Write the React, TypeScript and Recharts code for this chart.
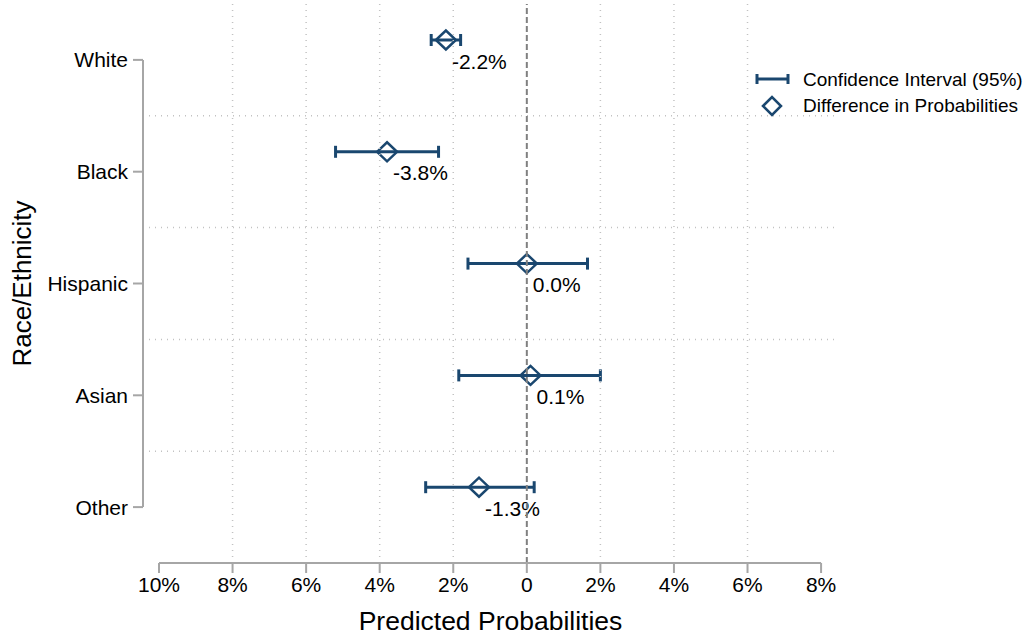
import { ComposedChart, Bar, XAxis, YAxis, ReferenceLine, Label } from "recharts"

const groups = ["White", "Black", "Hispanic", "Asian", "Other"]
const estimates = [-2.2, -3.8, 0.0, 0.1, -1.3]
const lower = [-2.6, -5.2, -1.6, -1.85, -2.75]
const upper = [-1.8, -2.4, 1.65, 2.0, 0.2]
const xTicks = [-10, -8, -6, -4, -2, 0, 2, 4, 6, 8]

const NAVY = "#1a476f"
const AXIS = "#a6a6a6"
const GRID = "#c2c2c2"
const FONT = "'Liberation Sans', Arial, Helvetica, sans-serif"

// plot area runs a bit past the outer ticks, like the Stata original
const X_MIN = -10.435
const X_MAX = 8.46

const rows = groups.map((name, i) => ({ name, est: estimates[i], ci: [lower[i], upper[i]] }))

const innerGrid = xTicks.filter((v, i) => v !== 0 && i > 0 && i < xTicks.length - 1)

function CiMark(props: any) {
  const { x, y, width, height, payload } = props
  const [lo, hi] = payload.ci
  const x1 = Math.min(x, x + width)
  const x2 = Math.max(x, x + width)
  const cy = y + height / 2 - 20
  const cx = x1 + ((x2 - x1) * (payload.est - lo)) / (hi - lo)
  return (
    <g>
      <line x1={x1} x2={x2} y1={cy} y2={cy} stroke={NAVY} strokeWidth={3} />
      <line x1={x1} x2={x1} y1={cy - 6} y2={cy + 6} stroke={NAVY} strokeWidth={3} />
      <line x1={x2} x2={x2} y1={cy - 6} y2={cy + 6} stroke={NAVY} strokeWidth={3} />
      <path
        d={`M${cx - 10},${cy} L${cx},${cy - 9.5} L${cx + 10},${cy} L${cx},${cy + 9.5} Z`}
        fill="none"
        stroke={NAVY}
        strokeWidth={2.5}
      />
      <text x={cx + 6} y={cy + 21} dominantBaseline="central" fontSize={21} fill="#000" fontFamily={FONT}>
        {payload.est.toFixed(1)}%
      </text>
    </g>
  )
}

function LegendBox() {
  return (
    <svg width={281} height={60} style={{ position: "absolute", left: 750, top: 62 }}>
      <line x1={7} x2={38} y1={17} y2={17} stroke={NAVY} strokeWidth={3} />
      <line x1={7} x2={7} y1={12} y2={22} stroke={NAVY} strokeWidth={3} />
      <line x1={38} x2={38} y1={12} y2={22} stroke={NAVY} strokeWidth={3} />
      <path d="M13,44 L22,35 L31,44 L22,53 Z" fill="none" stroke={NAVY} strokeWidth={2.5} />
      <text x={53} y={17} dominantBaseline="central" fontSize={19} fontFamily={FONT} fill="#000">
        Confidence Interval (95%)
      </text>
      <text x={53} y={43} dominantBaseline="central" fontSize={19} fontFamily={FONT} fill="#000">
        Difference in Probabilities
      </text>
    </svg>
  )
}

export default function App() {
  return (
    <div style={{ position: "absolute", left: 0, top: 0, width: 1031, height: 639, background: "#fff" }}>
      <ComposedChart
        width={1031}
        height={639}
        data={rows}
        layout="vertical"
        margin={{ top: 4, right: 193, bottom: 0, left: 0 }}
      >
        <XAxis
          type="number"
          domain={[X_MIN, X_MAX]}
          allowDataOverflow
          ticks={xTicks}
          tickFormatter={(v: number) => (v === 0 ? "0" : `${Math.abs(v)}%`)}
          axisLine={false}
          tickSize={10}
          tickMargin={4}
          tickLine={{ stroke: AXIS, strokeWidth: 2 }}
          tick={{ fontSize: 21, fill: "#000", fontFamily: FONT }}
          height={76}
        >
          <Label
            content={(p: any) => {
              const vb = p.viewBox
              return (
                <text
                  x={vb.x + vb.width / 2}
                  y={vb.y + 58}
                  textAnchor="middle"
                  dominantBaseline="central"
                  fontSize={26.5}
                  fontFamily={FONT}
                  fill="#000"
                >
                  Predicted Probabilities
                </text>
              )
            }}
          />
        </XAxis>
        <YAxis
          type="category"
          dataKey="name"
          width={143}
          axisLine={false}
          tickSize={10}
          tickMargin={5}
          tickLine={{ stroke: AXIS, strokeWidth: 2 }}
          tick={{ fontSize: 21, fill: "#000", fontFamily: FONT }}
        >
          <Label
            content={(p: any) => {
              const vb = p.viewBox
              const cx = vb.x + 22
              const cy = vb.y + vb.height / 2
              return (
                <text
                  x={cx}
                  y={cy}
                  transform={`rotate(-90 ${cx} ${cy})`}
                  textAnchor="middle"
                  dominantBaseline="central"
                  fontSize={26}
                  fontFamily={FONT}
                  fill="#000"
                >
                  Race/Ethnicity
                </text>
              )
            }}
          />
        </YAxis>

        {groups.slice(1).map((g) => (
          <ReferenceLine key={g} y={g} position="start" stroke={GRID} strokeWidth={1.5} strokeDasharray="1 5" />
        ))}
        {innerGrid.map((v) => (
          <ReferenceLine key={v} x={v} stroke={GRID} strokeWidth={1.5} strokeDasharray="1 5" />
        ))}
        <ReferenceLine x={0} stroke="#808080" strokeWidth={2} strokeDasharray="6 3" />

        <ReferenceLine
          segment={[{ x: X_MIN, y: groups[0] }, { x: X_MIN, y: groups[groups.length - 1] }]}
          stroke={AXIS}
          strokeWidth={2}
          ifOverflow="visible"
        />
        <ReferenceLine
          segment={[{ x: xTicks[0], y: groups[groups.length - 1] }, { x: xTicks[xTicks.length - 1], y: groups[groups.length - 1] }]}
          position="end"
          stroke={AXIS}
          strokeWidth={2}
          ifOverflow="visible"
        />

        <Bar dataKey="ci" barSize={12} isAnimationActive={false} shape={(p: any) => <CiMark {...p} />} />
      </ComposedChart>
      <LegendBox />
    </div>
  )
}
